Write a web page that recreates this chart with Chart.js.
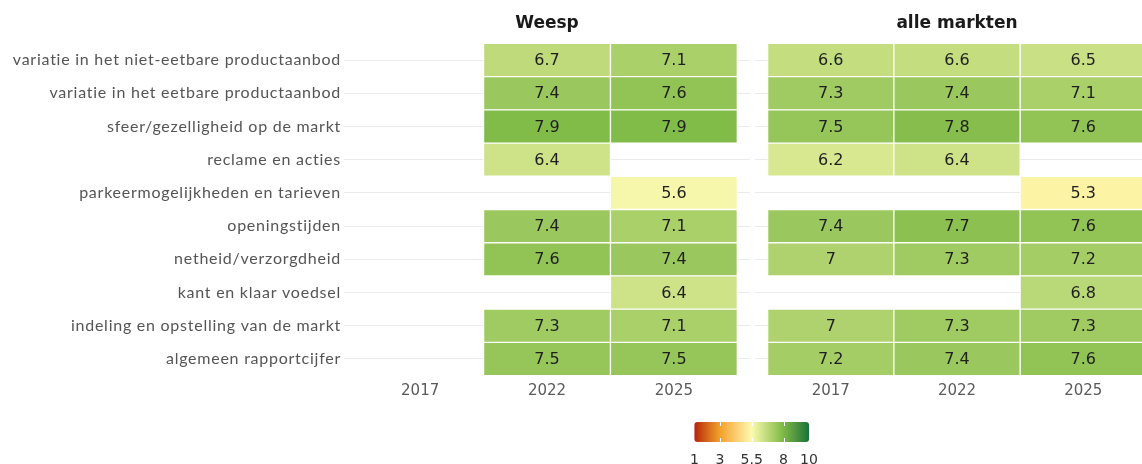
<!DOCTYPE html>
<html>
<head>
<meta charset="utf-8">
<script src="https://cdn.jsdelivr.net/npm/chart.js@4/dist/chart.umd.min.js"></script>
<style>
  html, body { margin: 0; padding: 0; background: #fff; overflow: hidden; }
  #wrap { position: relative; width: 1142px; height: 464px; overflow: hidden; }
  canvas { position: absolute; }
</style>
</head>
<body>
<div id="wrap">
  <canvas id="left" width="750" height="410" style="left:0;top:0;width:750px;height:410px"></canvas>
  <canvas id="right" width="404" height="410" style="left:755px;top:0;width:404px;height:410px"></canvas>
  <canvas id="legend" width="150" height="54" style="left:680px;top:410px;width:150px;height:54px"></canvas>
</div>
<script>
// ---- data ----
const rows = [
  'variatie in het niet-eetbare productaanbod',
  'variatie in het eetbare productaanbod',
  'sfeer/gezelligheid op de markt',
  'reclame en acties',
  'parkeermogelijkheden en tarieven',
  'openingstijden',
  'netheid/verzorgdheid',
  'kant en klaar voedsel',
  'indeling en opstelling van de markt',
  'algemeen rapportcijfer'
];
const years = ['2017', '2022', '2025'];
const panelTitles = ['Weesp', 'alle markten'];

const weesp2017 = [null, null, null, null, null, null, null, null, null, null];
const weesp2022 = [6.7, 7.4, 7.9, 6.4, null, 7.4, 7.6, null, 7.3, 7.5];
const weesp2025 = [7.1, 7.6, 7.9, null, 5.6, 7.1, 7.4, 6.4, 7.1, 7.5];

const alle2017 = [6.6, 7.3, 7.5, 6.2, null, 7.4, 7, null, 7, 7.2];
const alle2022 = [6.6, 7.4, 7.8, 6.4, null, 7.7, 7.3, null, 7.3, 7.4];
const alle2025 = [6.5, 7.1, 7.6, null, 5.3, 7.6, 7.2, 6.8, 7.3, 7.6];

const scaleStops = [1, 3, 5.5, 8, 10];
const scaleColors = ['#b3200e', '#f3a02b', '#fbfaae', '#7cb844', '#11733a'];
const legendTicks = [1, 3, 5.5, 8, 10];

// ---- colour helpers (interpolation in CIE Lab) ----
function hexToRgb(h) {
  const n = parseInt(h.slice(1), 16);
  return [(n >> 16) & 255, (n >> 8) & 255, n & 255];
}
function srgbToLin(c) { c /= 255; return c <= 0.04045 ? c / 12.92 : Math.pow((c + 0.055) / 1.055, 2.4); }
function linToSrgb(c) { const v = c <= 0.0031308 ? 12.92 * c : 1.055 * Math.pow(c, 1 / 2.4) - 0.055; return Math.max(0, Math.min(255, Math.round(v * 255))); }
const WX = 0.95047, WY = 1.0, WZ = 1.08883;
function fLab(t) { return t > 216 / 24389 ? Math.cbrt(t) : (24389 / 27 * t + 16) / 116; }
function fInv(t) { const t3 = t * t * t; return t3 > 216 / 24389 ? t3 : (116 * t - 16) / (24389 / 27); }
function rgbToLab(rgb) {
  const [r, g, b] = rgb.map(srgbToLin);
  const x = (0.4124564 * r + 0.3575761 * g + 0.1804375 * b) / WX;
  const y = (0.2126729 * r + 0.7151522 * g + 0.0721750 * b) / WY;
  const z = (0.0193339 * r + 0.1191920 * g + 0.9503041 * b) / WZ;
  const fx = fLab(x), fy = fLab(y), fz = fLab(z);
  return [116 * fy - 16, 500 * (fx - fy), 200 * (fy - fz)];
}
function labToRgb(lab) {
  const fy = (lab[0] + 16) / 116, fx = fy + lab[1] / 500, fz = fy - lab[2] / 200;
  const x = fInv(fx) * WX, y = fInv(fy) * WY, z = fInv(fz) * WZ;
  const r = 3.2404542 * x - 1.5371385 * y - 0.4985314 * z;
  const g = -0.9692660 * x + 1.8760108 * y + 0.0415560 * z;
  const b = 0.0556434 * x - 0.2040259 * y + 1.0572252 * z;
  return [linToSrgb(r), linToSrgb(g), linToSrgb(b)];
}
const stopLabs = scaleColors.map(c => rgbToLab(hexToRgb(c)));
function colorFor(v) {
  if (v == null) return 'rgba(0,0,0,0)';
  let i = 0;
  while (i < scaleStops.length - 2 && v > scaleStops[i + 1]) i++;
  const t = Math.max(0, Math.min(1, (v - scaleStops[i]) / (scaleStops[i + 1] - scaleStops[i])));
  const a = stopLabs[i], b = stopLabs[i + 1];
  const c = labToRgb(a.map((x, k) => x + (b[k] - x) * t));
  return `rgb(${c[0]},${c[1]},${c[2]})`;
}

const FONT_LABEL = 'Lato, "Open Sans", sans-serif';
const FONT_NUM = '"DejaVu Sans", Verdana, sans-serif';

const valueLabels = {
  id: 'valueLabels',
  afterDatasetsDraw(chart) {
    const ctx = chart.ctx;
    ctx.save();
    ctx.font = `16px ${FONT_NUM}`;
    ctx.fillStyle = '#1f1f1f';
    ctx.textAlign = 'center';
    ctx.textBaseline = 'middle';
    chart.data.datasets.forEach((ds, di) => {
      const meta = chart.getDatasetMeta(di);
      meta.data.forEach((el, i) => {
        const v = ds.values[i];
        if (v == null) return;
        const p = el.getCenterPoint();
        ctx.fillText(String(v), p.x, p.y + 1);
      });
    });
    ctx.restore();
  }
};

const panelTitle = {
  id: 'panelTitle',
  afterDraw(chart, args, opts) {
    const { ctx, chartArea } = chart;
    ctx.save();
    ctx.font = `bold 17px ${FONT_NUM}`;
    ctx.fillStyle = '#1a1a1a';
    ctx.textAlign = 'center';
    ctx.textBaseline = 'middle';
    ctx.fillText(opts.text, (chartArea.left + chartArea.right) / 2, 24);
    ctx.restore();
  }
};

function spacedLabels(scale) {
  if (scale._spacedPatched) return;
  scale._spacedPatched = true;
  const orig = scale.drawLabels.bind(scale);
  scale.drawLabels = function (area) {
    const ctx = this.ctx;
    const prev = ctx.letterSpacing;
    ctx.letterSpacing = '0.75px';
    orig(area);
    ctx.letterSpacing = prev || '0px';
  };
}

function makePanel(canvasId, title, series, showLabels) {
  const datasets = series.map((vals, j) => ({
    label: years[j],
    values: vals,
    data: vals.map(v => v == null ? null : [j, j + 1]),
    backgroundColor: vals.map(colorFor),
    borderColor: '#ffffff',
    borderWidth: 1,
    borderSkipped: false,
    barPercentage: 1,
    categoryPercentage: 1,
    grouped: false
  }));
  return new Chart(document.getElementById(canvasId), {
    type: 'bar',
    data: { labels: rows, datasets },
    plugins: [valueLabels, panelTitle],
    options: {
      indexAxis: 'y',
      responsive: false,
      animation: false,
      devicePixelRatio: 1,
      layout: { padding: { top: 43.4, left: 0, right: 0, bottom: 0 } },
      plugins: {
        legend: { display: false },
        tooltip: { enabled: false },
        title: { display: false },
        panelTitle: { text: title }
      },
      scales: {
        x: {
          type: 'linear',
          min: -0.1,
          max: 3.1,
          grid: { display: false, drawTicks: false },
          border: { display: false },
          afterBuildTicks(scale) {
            scale.ticks = [0.5, 1.5, 2.5].map(v => ({ value: v }));
          },
          afterFit(scale) { scale.height = 34.4; },
          ticks: {
            padding: 7,
            color: '#5a5a5a',
            font: { family: FONT_NUM, size: 15 },
            callback: (v, i) => years[i]
          }
        },
        y: {
          type: 'category',
          offset: true,
          grid: { offset: false, color: '#ebebeb', lineWidth: 1, drawTicks: false },
          border: { display: false },
          afterFit(scale) { scale.width = showLabels ? 344 : 0; spacedLabels(scale); },
          ticks: {
            display: showLabels,
            padding: 3,
            color: '#555555',
            font: { family: FONT_LABEL, size: 16 }
          }
        }
      }
    }
  });
}

makePanel('left', panelTitles[0], [weesp2017, weesp2022, weesp2025], true);
makePanel('right', panelTitles[1], [alle2017, alle2022, alle2025], false);

// ---- colour bar legend ----
const colorbar = {
  id: 'colorbar',
  beforeDatasetsDraw(chart) {
    const { ctx, chartArea } = chart;
    const xs = chart.scales.x;
    const lo = scaleStops[0], hi = scaleStops[scaleStops.length - 1];
    const x0 = xs.getPixelForValue(lo);
    const x1 = xs.getPixelForValue(hi);
    const g = ctx.createLinearGradient(x0, 0, x1, 0);
    const n = 40;
    for (let k = 0; k <= n; k++) {
      const v = lo + (hi - lo) * k / n;
      g.addColorStop(k / n, colorFor(v));
    }
    ctx.save();
    ctx.fillStyle = g;
    ctx.beginPath();
    if (ctx.roundRect) ctx.roundRect(x0, chartArea.top, x1 - x0, chartArea.bottom - chartArea.top, 3);
    else ctx.rect(x0, chartArea.top, x1 - x0, chartArea.bottom - chartArea.top);
    ctx.fill();
    ctx.strokeStyle = '#ffffff';
    ctx.lineWidth = 1;
    const h = (chartArea.bottom - chartArea.top) / 5;
    [3, 5.5, 8].forEach(v => {
      const px = Math.round(xs.getPixelForValue(v)) + 0.5;
      ctx.beginPath();
      ctx.moveTo(px, chartArea.top); ctx.lineTo(px, chartArea.top + h);
      ctx.moveTo(px, chartArea.bottom - h); ctx.lineTo(px, chartArea.bottom);
      ctx.stroke();
    });
    ctx.restore();
  }
};

new Chart(document.getElementById('legend'), {
  type: 'scatter',
  data: { datasets: [{ data: [] }] },
  plugins: [colorbar],
  options: {
    responsive: false,
    animation: false,
    devicePixelRatio: 1,
    layout: { padding: { left: 14, right: 21, top: 12, bottom: 0 } },
    plugins: { legend: { display: false }, tooltip: { enabled: false } },
    scales: {
      x: {
        type: 'linear',
        min: 1,
        max: 10,
        grid: { display: false, drawTicks: false },
        border: { display: false },
        afterBuildTicks(scale) { scale.ticks = legendTicks.map(v => ({ value: v })); },
        afterFit(scale) { scale.height = 22; },
        ticks: {
          padding: 10,
          color: '#333333',
          maxRotation: 0,
          autoSkip: false,
          font: { family: FONT_NUM, size: 14 },
          callback: v => String(v)
        }
      },
      y: { display: false, min: 0, max: 1 }
    }
  }
});
</script>
</body>
</html>
